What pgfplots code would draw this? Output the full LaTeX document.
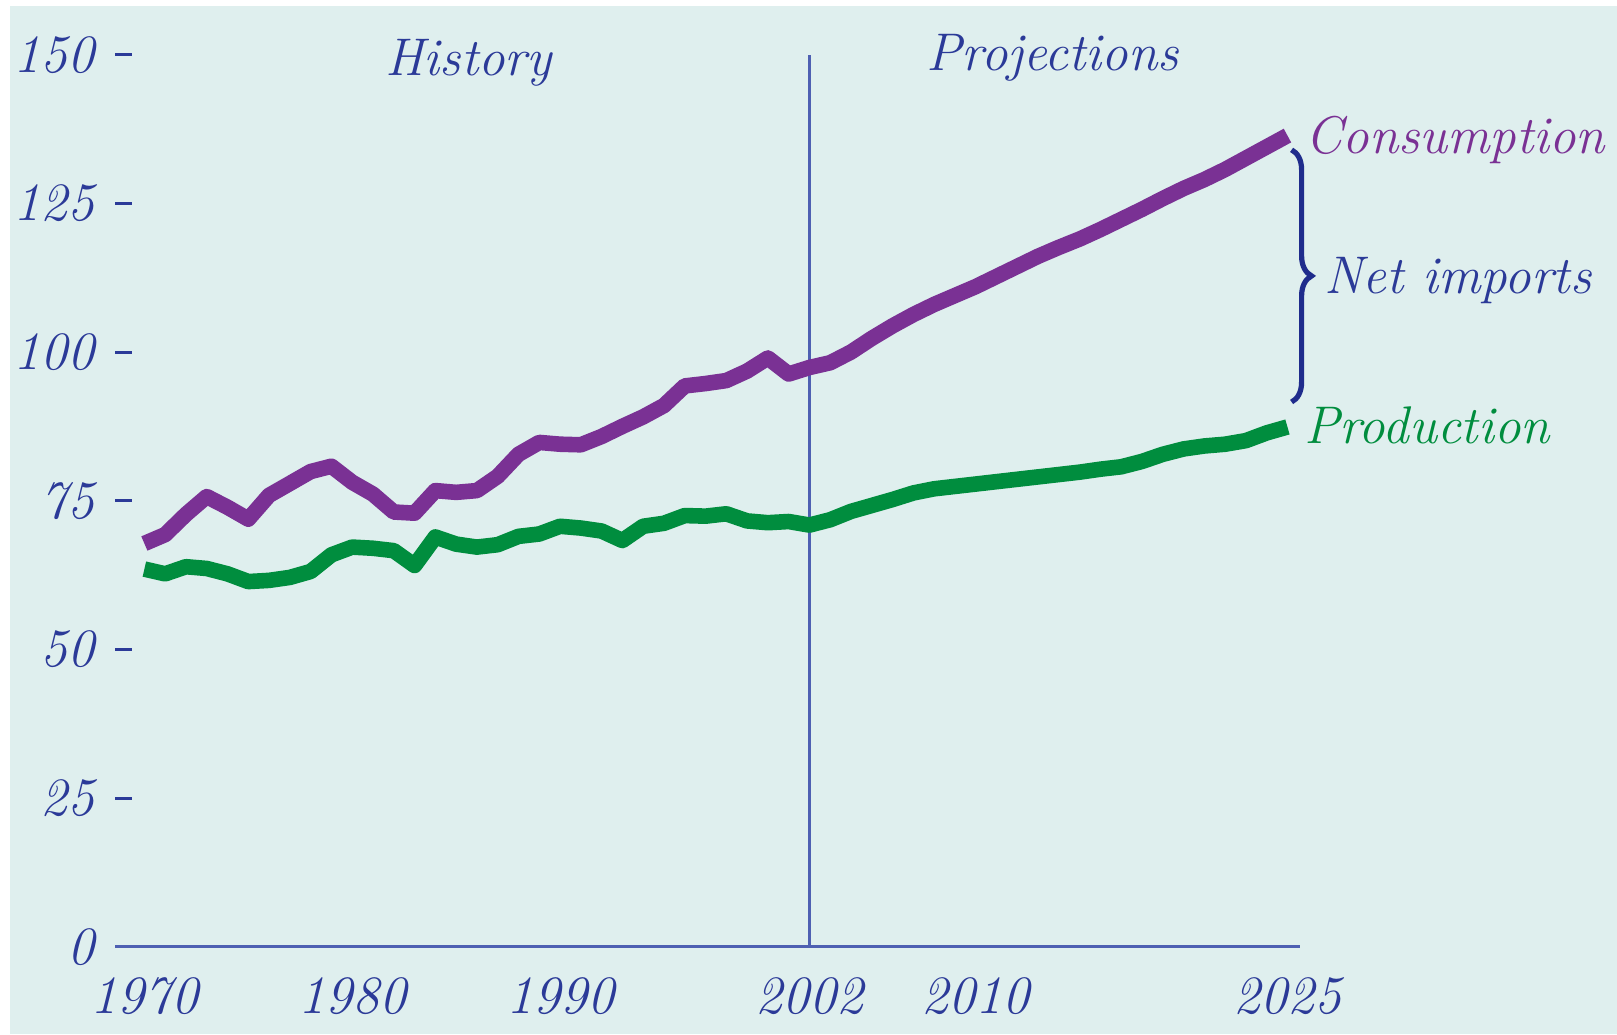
\documentclass[border=0pt]{standalone}
\usepackage{pgfplots}
\pgfplotsset{compat=1.18}
\usetikzlibrary{decorations.pathreplacing}
\definecolor{bg}{RGB}{223,239,238}
\definecolor{purp}{RGB}{122,49,148}
\definecolor{grn}{RGB}{0,141,62}
\definecolor{txtblue}{RGB}{43,58,152}
\definecolor{axisblue}{RGB}{78,96,178}
\definecolor{bracecol}{RGB}{31,44,140}
\newcommand{\lbl}{\fontsize{26.5}{31}\selectfont\itshape}
\newcommand{\tlbl}{\fontsize{27}{32}\selectfont\itshape}
\pgfplotstableread{
year val
1970 67.8
1971 69.3
1972 72.7
1973 75.7
1974 73.9
1975 71.9
1976 75.9
1977 77.9
1978 79.9
1979 80.8
1980 78.1
1981 76.1
1982 73.1
1983 72.9
1984 76.7
1985 76.4
1986 76.7
1987 79.1
1988 82.8
1989 84.8
1990 84.5
1991 84.4
1992 85.8
1993 87.5
1994 89.1
1995 91.0
1996 94.3
1997 94.7
1998 95.2
1999 96.8
2000 99.0
2001 96.3
2002 97.4
2003 98.2
2004 100.0
2005 102.3
2006 104.4
2007 106.3
2008 108.0
2009 109.5
2010 111.0
2011 112.7
2012 114.4
2013 116.1
2014 117.6
2015 119.0
2016 120.6
2017 122.3
2018 124.0
2019 125.8
2020 127.5
2021 129.0
2022 130.7
2023 132.6
2024 134.5
2025 136.4
}\consumption
\pgfplotstableread{
year val
1970 63.5
1971 62.7
1972 63.9
1973 63.6
1974 62.7
1975 61.4
1976 61.6
1977 62.1
1978 63.1
1979 65.9
1980 67.2
1981 67.0
1982 66.6
1983 64.1
1984 68.9
1985 67.7
1986 67.2
1987 67.6
1988 69.0
1989 69.4
1990 70.7
1991 70.4
1992 69.9
1993 68.3
1994 70.7
1995 71.2
1996 72.5
1997 72.4
1998 72.8
1999 71.6
2000 71.3
2001 71.5
2002 70.9
2003 71.8
2004 73.2
2005 74.2
2006 75.2
2007 76.3
2008 77.0
2009 77.4
2010 77.8
2011 78.2
2012 78.6
2013 79.0
2014 79.4
2015 79.8
2016 80.3
2017 80.7
2018 81.6
2019 82.8
2020 83.7
2021 84.2
2022 84.5
2023 85.1
2024 86.4
2025 87.4
}\production
\begin{document}
\begin{tikzpicture}
\path[use as bounding box, fill=white] (-57.75pt,-43.65pt) rectangle (750.75pt,473.35pt);
\fill[bg] (-52.75pt,-43.65pt) rectangle (750.75pt,470.35pt);
\begin{axis}[
  at={(0,0)}, anchor=south west, scale only axis,
  width=592pt, height=446pt,
  xmin=1968.61, xmax=2025.58, ymin=0, ymax=150,
  clip=false,
  axis x line=bottom, axis y line=left,
  x axis line style={draw=axisblue, line width=1.5pt, -},
  y axis line style={draw=none, -},
  xtick={1970,1980,1990,2002,2010,2025},
  xticklabels={1970,1980,1990,2002,2010,2025},
  ytick={0,25,50,75,100,125,150},
  yticklabels={0,25,50,75,100,125,150},
  /pgf/number format/assume math mode=true,
  ticklabel style={font=\tlbl, text=txtblue},
  xtick style={draw=none},
  ytick style={draw=txtblue, line width=1.5pt},
  tick align=inside, major tick length=8.5pt,
  xticklabel style={yshift=-12pt},
  yticklabel style={xshift=-7pt},
]
\draw[axisblue, line width=1.2pt] (axis cs:2002,0) -- (axis cs:2002,150);
\addplot[purp, line width=7.8pt, line join=round, no markers] table[x=year, y=val] {\consumption};
\addplot[grn, line width=7.8pt, line join=round, no markers] table[x=year, y=val] {\production};
\draw[bracecol, line width=2.6pt, decorate, decoration={brace, amplitude=10pt}] (axis cs:2025.2,134.0) -- (axis cs:2025.2,91.6);
\node[anchor=base west, inner sep=0, text=purp, font=\lbl] at (axis cs:2025.85,133.4) {Consumption};
\node[anchor=base west, inner sep=0, text=txtblue, font=\lbl] at (axis cs:2026.75,109.9) {Net imports};
\node[anchor=base west, inner sep=0, text=grn, font=\lbl] at (axis cs:2025.8,84.6) {Production};
\node[anchor=base, inner sep=0, text=txtblue, font=\lbl] at (axis cs:1985.6,146.5) {History};
\node[anchor=base, inner sep=0, text=txtblue, font=\lbl] at (axis cs:2013.7,147.4) {Projections};
\end{axis}
\end{tikzpicture}
\end{document}
